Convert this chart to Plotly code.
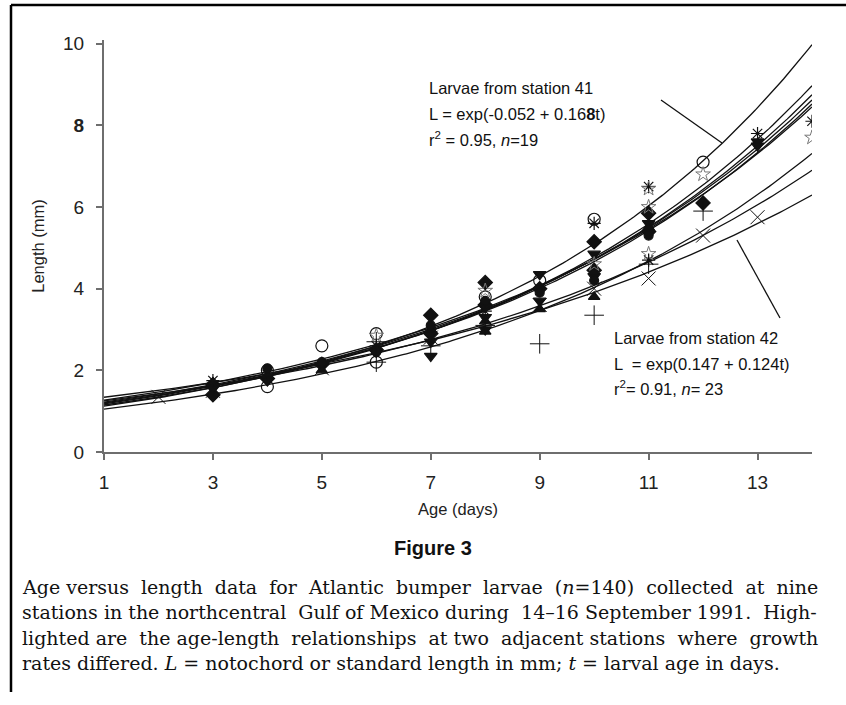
import numpy as np
import plotly.graph_objects as go

# ---------------- data ----------------
# fitted curves L = exp(a + b t), one per station
curve_a = [-0.052, -0.018, 0.0114, 0.0485, 0.0315, -0.1005, 0.093, 0.0917, 0.1737]
curve_b = [0.168, 0.158, 0.1541, 0.1504, 0.1508, 0.1493, 0.1458, 0.1314, 0.119]

# observed points per station (age in days, length in mm)
circ_t = [4, 4, 5, 6, 6, 8, 9, 10, 12]
circ_L = [1.6, 2.0, 2.6, 2.9, 2.2, 3.8, 4.2, 5.7, 7.1]
diam_t = [3, 3, 4, 5, 6, 7, 7, 8, 8, 9, 10, 10, 11, 11, 12]
diam_L = [1.4, 1.65, 1.8, 2.15, 2.5, 3.35, 2.9, 4.15, 3.6, 4.0, 5.15, 4.45, 5.85, 5.4, 6.1]
tdn_t = [3, 4, 5, 6, 7, 7, 8, 8, 9, 9, 10, 10, 11, 13, 13]
tdn_L = [1.55, 1.75, 2.1, 2.45, 2.35, 2.7, 3.0, 3.3, 4.35, 3.7, 4.85, 4.3, 5.6, 7.6, 7.5]
tup_t = [3, 5, 7, 8, 8, 9, 10, 11]
tup_L = [1.7, 2.0, 3.0, 3.2, 2.95, 3.5, 3.8, 5.5]
ast_t = [3, 4, 6, 8, 10, 11, 11, 13, 14]
ast_L = [1.75, 1.9, 2.6, 3.45, 5.6, 6.5, 4.7, 7.8, 8.1]
fcir_t = [4, 5, 6, 7, 8, 9, 10, 11]
fcir_L = [2.05, 2.2, 2.45, 3.1, 3.7, 3.9, 4.2, 5.3]
sun_t = [6, 8, 10, 11, 11, 11, 12, 14]
sun_L = [2.85, 3.95, 4.6, 6.45, 6.0, 4.85, 6.8, 7.7]
plus_t = [6, 6, 7, 8, 9, 10, 11, 12]
plus_L = [2.7, 2.2, 2.6, 3.1, 2.65, 3.35, 4.6, 5.9]
xm_t = [2, 3, 5, 7, 9, 10, 11, 12, 13]
xm_L = [1.35, 1.5, 2.05, 2.8, 3.6, 4.0, 4.25, 5.3, 5.75]

x_tickvals = [1, 3, 5, 7, 9, 11, 13]
y_tickvals = [0, 2, 4, 6, 8, 10]
y_ticktext = ["0", "2", "4", "6", "<b>8</b>", "10"]

# ---------------- figure ----------------
fig = go.Figure()

t_grid = np.linspace(1, 14, 200)
for a, b in zip(curve_a, curve_b):
    fig.add_trace(go.Scatter(x=t_grid, y=np.exp(a + b * t_grid), mode="lines",
                             line=dict(color="#111111", width=1.3),
                             hoverinfo="skip", showlegend=False))

def pts(t, L, symbol, size, color="#111111", lw=1.2):
    fig.add_trace(go.Scatter(x=t, y=L, mode="markers", showlegend=False,
                             marker=dict(symbol=symbol, size=size, color=color,
                                         line=dict(color=color, width=lw))))

pts(circ_t, circ_L, "circle-open", 12)
pts(diam_t, diam_L, "diamond", 11)
pts(tdn_t, tdn_L, "triangle-down", 11)
pts(tup_t, tup_L, "triangle-up", 10)
pts(ast_t, ast_L, "asterisk-open", 11)
pts(fcir_t, fcir_L, "circle", 9)
pts(sun_t, sun_L, "star-open", 11, color="#777777", lw=1)
pts(plus_t, plus_L, "cross-thin-open", 14, lw=1)
pts(xm_t, xm_L, "x-thin-open", 14, lw=1)

# plot area in pixels: x 104..812, y 40..452
L_, R_, T_, B_ = 104, 812, 40, 452
def px(x):
    return (x - L_) / (R_ - L_)
def py(y):
    return (B_ - y) / (B_ - T_)

lab_font = dict(family="Liberation Sans, Arial, sans-serif", size=16.5, color="#111111")
ann = []
for txt, x, y in [
    ("Larvae from station 41", 427, 88),
    ("L = exp(-0.052 + 0.16<b>8</b>t)", 427, 114),
    ("r<sup>2</sup> = 0.95, <i>n</i>=19", 427, 139),
    ("Larvae from station 42", 612, 338),
    ("L  = exp(0.147 + 0.124t)", 612, 364),
    ("r<sup>2</sup>= 0.91, <i>n</i>= 23", 612, 388),
]:
    ann.append(dict(text=txt, x=px(x), y=py(y), xref="paper", yref="paper",
                    xanchor="left", yanchor="middle", showarrow=False, font=lab_font))

ann.append(dict(text="<b>Figure 3</b>", x=px(433), y=py(548), xref="paper", yref="paper",
                xanchor="center", yanchor="middle", showarrow=False,
                font=dict(family="Liberation Sans, Arial, sans-serif", size=20, color="#111111")))

NB = "\u00a0"
caption = [
    "Age versus length data for Atlantic bumper larvae (<i>n</i>=140) collected at nine",
    "stations in the northcentral Gulf of Mexico during 14–16 September 1991. High-",
    "lighted are the age-length relationships at two adjacent stations where growth",
    "rates differed. <i>L</i> = notochord or standard length in mm; <i>t</i> = larval age in days.",
]
extra = [10, 3, 6, 0]  # extra spaces spread over gaps to mimic justified lines

def justify(line, n):
    words = line.split(" ")
    gaps = len(words) - 1
    if n <= 0 or gaps <= 0:
        return line
    out = words[0]
    for g in range(gaps):
        # spread n extra spaces evenly over the gaps
        k = (g + 1) * n // gaps - g * n // gaps
        out += " " + NB * k + words[g + 1]
    return out

for i, line in enumerate(caption):
    ann.append(dict(text=justify(line, extra[i]), x=px(20), y=py(587 + i * 25.3),
                    xref="paper", yref="paper",
                    xanchor="left", yanchor="middle", showarrow=False,
                    font=dict(family="DejaVu Serif, serif", size=19, color="#111111")))

shapes = [
    # leader lines
    dict(type="line", xref="paper", yref="paper", x0=px(661), y0=py(100), x1=px(722), y1=py(143),
         line=dict(color="#111111", width=1.3)),
    dict(type="line", xref="paper", yref="paper", x0=px(737), y0=py(240), x1=px(780), y1=py(318),
         line=dict(color="#111111", width=1.3)),
    # frame
    dict(type="line", xref="paper", yref="paper", x0=px(11), y0=py(5), x1=px(846), y1=py(5),
         line=dict(color="#000000", width=2.5)),
    dict(type="line", xref="paper", yref="paper", x0=px(11), y0=py(5), x1=px(11), y1=py(692),
         line=dict(color="#000000", width=2.5)),
]

axis_font = dict(family="Liberation Sans, Arial, sans-serif", size=19, color="#222222")
fig.update_layout(
    width=846, height=705,
    margin=dict(l=L_, r=846 - R_, t=T_, b=705 - B_),
    paper_bgcolor="white", plot_bgcolor="white",
    showlegend=False,
    annotations=ann, shapes=shapes,
    xaxis=dict(range=[1, 14], tickvals=x_tickvals, showgrid=False, zeroline=False,
               showline=True, linecolor="#6e6e6e", linewidth=2,
               ticks="outside", ticklen=6, tickcolor="#6e6e6e", tickwidth=1.5,
               tickfont=axis_font, ticklabelstandoff=6,
               title=dict(text="Age (days)", standoff=12,
                          font=dict(family="Liberation Sans, Arial, sans-serif", size=16.5, color="#222222"))),
    yaxis=dict(range=[0, 10.09], tickvals=y_tickvals, ticktext=y_ticktext, showgrid=False,
               zeroline=False, showline=True, linecolor="#6e6e6e", linewidth=2,
               ticks="outside", ticklen=6, tickcolor="#6e6e6e", tickwidth=1.5,
               tickfont=axis_font, ticklabelstandoff=8,
               title=dict(text="Length (mm)", standoff=14,
                          font=dict(family="Liberation Sans, Arial, sans-serif", size=16.5, color="#222222"))),
)

fig.write_html("out.html", config={"displayModeBar": False},
               post_script="document.body.style.margin='0';")
